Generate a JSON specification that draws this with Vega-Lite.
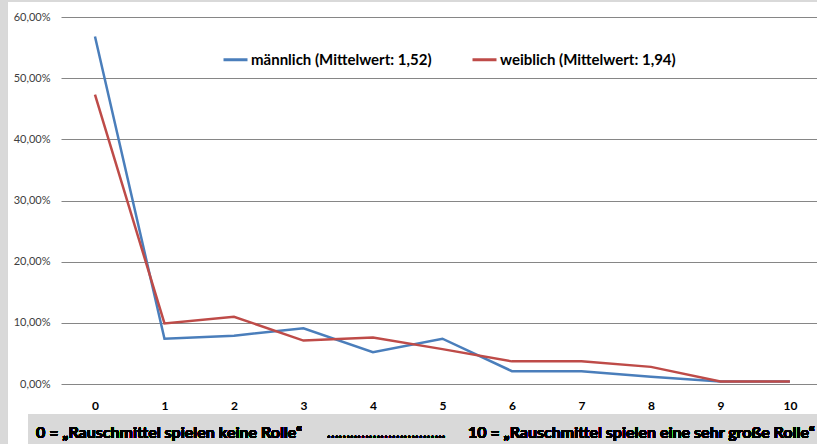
{
  "$schema": "https://vega.github.io/schema/vega-lite/v6.json",
  "width": 756,
  "height": 367,
  "autosize": {"type": "none"},
  "padding": {"left": 61, "top": 17, "right": 0, "bottom": 60},
  "background": "white",
  "config": {
    "view": {"stroke": null},
    "font": "Lato"
  },
  "data": {
    "values": [
      {"stufe": 0, "gruppe": "männlich (Mittelwert: 1,52)", "anteil": 0.568},
      {"stufe": 1, "gruppe": "männlich (Mittelwert: 1,52)", "anteil": 0.074},
      {"stufe": 2, "gruppe": "männlich (Mittelwert: 1,52)", "anteil": 0.079},
      {"stufe": 3, "gruppe": "männlich (Mittelwert: 1,52)", "anteil": 0.091},
      {"stufe": 4, "gruppe": "männlich (Mittelwert: 1,52)", "anteil": 0.052},
      {"stufe": 5, "gruppe": "männlich (Mittelwert: 1,52)", "anteil": 0.074},
      {"stufe": 6, "gruppe": "männlich (Mittelwert: 1,52)", "anteil": 0.021},
      {"stufe": 7, "gruppe": "männlich (Mittelwert: 1,52)", "anteil": 0.021},
      {"stufe": 8, "gruppe": "männlich (Mittelwert: 1,52)", "anteil": 0.012},
      {"stufe": 9, "gruppe": "männlich (Mittelwert: 1,52)", "anteil": 0.004},
      {"stufe": 10, "gruppe": "männlich (Mittelwert: 1,52)", "anteil": 0.004},
      {"stufe": 0, "gruppe": "weiblich (Mittelwert: 1,94)", "anteil": 0.473},
      {"stufe": 1, "gruppe": "weiblich (Mittelwert: 1,94)", "anteil": 0.099},
      {"stufe": 2, "gruppe": "weiblich (Mittelwert: 1,94)", "anteil": 0.110},
      {"stufe": 3, "gruppe": "weiblich (Mittelwert: 1,94)", "anteil": 0.071},
      {"stufe": 4, "gruppe": "weiblich (Mittelwert: 1,94)", "anteil": 0.076},
      {"stufe": 5, "gruppe": "weiblich (Mittelwert: 1,94)", "anteil": 0.057},
      {"stufe": 6, "gruppe": "weiblich (Mittelwert: 1,94)", "anteil": 0.037},
      {"stufe": 7, "gruppe": "weiblich (Mittelwert: 1,94)", "anteil": 0.037},
      {"stufe": 8, "gruppe": "weiblich (Mittelwert: 1,94)", "anteil": 0.028},
      {"stufe": 9, "gruppe": "weiblich (Mittelwert: 1,94)", "anteil": 0.004},
      {"stufe": 10, "gruppe": "weiblich (Mittelwert: 1,94)", "anteil": 0.004}
    ]
  },
  "layer": [
    {
      "mark": {"type": "rect", "fill": "#d9d9d9", "clip": false},
      "encoding": {
        "x": {
          "datum": -1.6, "type": "quantitative",
          "scale": {"domain": [-0.489, 10.39], "nice": false, "zero": false},
          "axis": {
            "values": [0, 1, 2, 3, 4, 5, 6, 7, 8, 9, 10],
            "title": null, "grid": false, "domain": false, "ticks": false,
            "labelFont": "Lato", "labelFontWeight": "bold", "labelFontSize": 12,
            "labelColor": "#000000", "labelPadding": 16, "format": "d"
          }
        },
        "x2": {"datum": -1.252},
        "y": {
          "datum": 0.7, "type": "quantitative",
          "scale": {"domain": [0, 0.6], "nice": false},
          "axis": {
            "values": [0, 0.1, 0.2, 0.3, 0.4, 0.5, 0.6],
            "title": null, "domain": false, "ticks": false,
            "grid": true, "gridColor": "#868686", "gridWidth": 1, "gridOpacity": 1,
            "labelExpr": "replace(format(datum.value, '.2%'), '.', ',')",
            "labelFont": "Lato", "labelFontSize": 11, "labelColor": "#404040",
            "labelPadding": 11
          }
        },
        "y2": {"datum": -0.2}
      }
    },
    {
      "mark": {"type": "rect", "fill": "#d9d9d9", "clip": false},
      "encoding": {
        "x": {"datum": -1.6, "type": "quantitative"},
        "x2": {"datum": 10.6},
        "y": {"datum": 0.7, "type": "quantitative"},
        "y2": {"datum": 0.6245}
      }
    },
    {
      "mark": {"type": "rect", "fill": "#d9d9d9", "clip": false},
      "encoding": {
        "x": {"datum": -0.964, "type": "quantitative"},
        "x2": {"datum": 10.6},
        "y": {"datum": -0.049, "type": "quantitative"},
        "y2": {"datum": -0.2}
      }
    },
    {
      "mark": {"type": "line", "strokeWidth": 2.5, "clip": false},
      "encoding": {
        "x": {"field": "stufe", "type": "quantitative", "title": null},
        "y": {"field": "anteil", "type": "quantitative", "title": null},
        "color": {
          "field": "gruppe", "type": "nominal",
          "scale": {
            "domain": ["männlich (Mittelwert: 1,52)", "weiblich (Mittelwert: 1,94)"],
            "range": ["#4a7ebb", "#be4b48"]
          },
          "legend": {
            "orient": "none", "legendX": 161, "legendY": 29, "direction": "horizontal",
            "title": null, "symbolType": "stroke", "symbolSize": 576, "symbolStrokeWidth": 3,
            "labelFont": "Lato", "labelFontWeight": "bold", "labelFontSize": 15,
            "labelColor": "#000000", "labelOffset": 2, "columnPadding": 34, "labelLimit": 400
          }
        }
      }
    },
    {
      "mark": {"type": "text", "align": "left", "baseline": "middle", "font": "Lato", "fontWeight": "bold", "fontSize": 16, "color": "#000000", "clip": false},
      "encoding": {
        "x": {"datum": -0.849, "type": "quantitative"},
        "y": {"datum": -0.0801, "type": "quantitative"},
        "text": {"value": "0 = „Rauschmittel spielen keine Rolle“"}
      }
    },
    {
      "mark": {"type": "text", "align": "left", "baseline": "middle", "font": "Lato", "fontWeight": "bold", "fontSize": 15, "color": "#000000", "clip": false},
      "encoding": {
        "x": {"datum": 3.338, "type": "quantitative"},
        "y": {"datum": -0.0801, "type": "quantitative"},
        "text": {"value": "……..………………….."}
      }
    },
    {
      "mark": {"type": "text", "align": "left", "baseline": "middle", "font": "Lato", "fontWeight": "bold", "fontSize": 16, "color": "#000000", "clip": false},
      "encoding": {
        "x": {"datum": 5.367, "type": "quantitative"},
        "y": {"datum": -0.0801, "type": "quantitative"},
        "text": {"value": "10 = „Rauschmittel spielen eine sehr große Rolle“"}
      }
    }
  ]
}
